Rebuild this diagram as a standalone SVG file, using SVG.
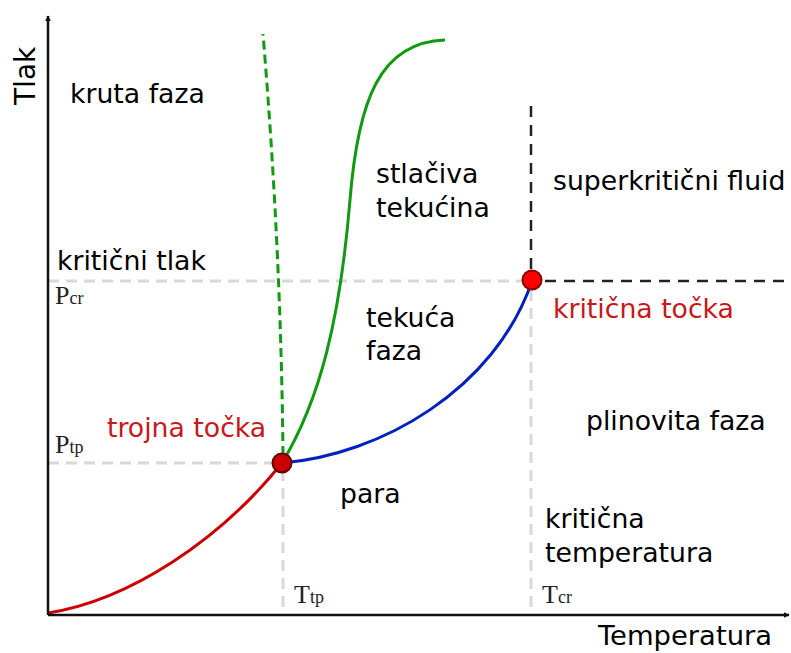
<svg xmlns="http://www.w3.org/2000/svg" width="791" height="653" viewBox="0 0 791 653">
<defs>
<style>
.lbl{font-family:"DejaVu Sans",sans-serif;font-size:26.7px;fill:#000}
.red{fill:#c8171d}
.ser{font-family:"Liberation Serif",serif;font-size:26px;fill:#222}
.sub{font-size:18px}
.grid{fill:none;stroke:#d8d8d8;stroke-width:3;stroke-dasharray:11,7}
.bdash{fill:none;stroke:#222;stroke-width:2.5;stroke-dasharray:11,8}
.axis{fill:none;stroke:#111;stroke-width:2.5}
</style>
<marker id="arr" viewBox="0 0 10 10" refX="9" refY="5" markerWidth="6" markerHeight="6" orient="auto" markerUnits="userSpaceOnUse">
<path d="M0,0 L10,5 L0,10 z" fill="#111"/>
</marker>
</defs>
<rect width="791" height="653" fill="#fff"/>
<g id="connectors">
<path class="grid" d="M48,281 H530"/>
<path class="grid" d="M48,463 H282"/>
<path class="grid" d="M283,470 V613"/>
<path class="grid" d="M531,290 V613"/>
<path class="bdash" d="M531,106 V272"/>
<path class="bdash" d="M545,281 H790"/>
<path d="M48,613 C130,600 220,540 282,463" fill="none" stroke="#cc0000" stroke-width="3"/>
<path d="M282,463 C380,455 495,390 532,281" fill="none" stroke="#0022bb" stroke-width="3"/>
<path d="M282,463 C320,400 340,320 350,200 C358,100 380,42 445,40" fill="none" stroke="#119911" stroke-width="3"/>
<path d="M283,455 Q281,250 263,34" fill="none" stroke="#119911" stroke-width="3" stroke-dasharray="9,5"/>
<path class="axis" d="M48,615 V16" marker-end="url(#arr)"/>
<path class="axis" d="M48,615 H789" marker-end="url(#arr)"/>
</g>
<g id="triple-point"><circle cx="282" cy="463" r="9.5" fill="#cc0000" stroke="#660000" stroke-width="2"/></g>
<g id="critical-point"><circle cx="532" cy="280" r="9.5" fill="#ff0000" stroke="#880000" stroke-width="2"/></g>
<g id="labels">
<text class="lbl" style="font-size:28px" transform="translate(35,105) rotate(-90)">Tlak</text>
<text class="lbl" style="font-size:27.4px" x="598" y="645">Temperatura</text>
<text class="lbl" x="70" y="103">kruta faza</text>
<text class="lbl" x="376" y="183">stlačiva</text>
<text class="lbl" x="376" y="217">tekućina</text>
<text class="lbl" x="553" y="190">superkritični fluid</text>
<text class="lbl" x="57" y="270">kritični tlak</text>
<text class="lbl" x="366" y="327">tekuća</text>
<text class="lbl" x="366" y="360">faza</text>
<text class="lbl red" x="553" y="318">kritična točka</text>
<text class="lbl red" x="107" y="437">trojna točka</text>
<text class="lbl" x="586" y="430">plinovita faza</text>
<text class="lbl" x="340" y="503">para</text>
<text class="lbl" x="545" y="528">kritična</text>
<text class="lbl" x="545" y="562">temperatura</text>
<text class="ser" x="55" y="304">P<tspan class="sub">cr</tspan></text>
<text class="ser" x="55" y="453">P<tspan class="sub">tp</tspan></text>
<text class="ser" x="294" y="603">T<tspan class="sub">tp</tspan></text>
<text class="ser" x="542" y="603">T<tspan class="sub">cr</tspan></text>
</g>
</svg>
